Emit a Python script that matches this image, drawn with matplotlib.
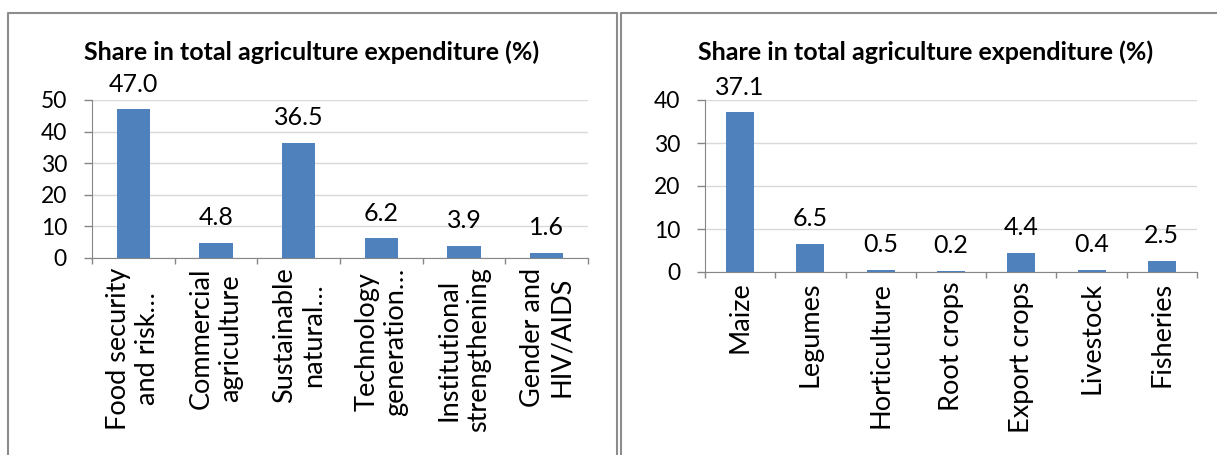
import matplotlib.pyplot as plt
from matplotlib.lines import Line2D

# left panel: agriculture programme areas
prog_labels = ["Food security\nand risk…", "Commercial\nagriculture", "Sustainable\nnatural…",
               "Technology\ngeneration…", "Institutional\nstrengthening", "Gender and\nHIV/AIDS"]
prog_share = [47.0, 4.8, 36.5, 6.2, 3.9, 1.6]

# right panel: commodities
crop_labels = ["Maize", "Legumes", "Horticulture", "Root crops", "Export crops", "Livestock", "Fisheries"]
crop_share = [37.1, 6.5, 0.5, 0.2, 4.4, 0.4, 2.5]

title = "Share in total agriculture expenditure (%)"
bar_color = "#4f81bd"

plt.rcParams['font.family'] = ['Lato', 'DejaVu Sans']

W, H = 1217, 455
fig = plt.figure(figsize=(W / 100, H / 100), dpi=100)


def px_axes(x0, x1, ytop, ybot):
    return fig.add_axes([x0 / W, (H - ybot) / H, (x1 - x0) / W, (ybot - ytop) / H])


def draw(ax, labels, vals, ymax, step):
    n = len(vals)
    xs = range(n)
    ax.bar(xs, vals, width=0.4, color=bar_color, zorder=3)
    for x, v in zip(xs, vals):
        ax.annotate(f"{v:.1f}", (x, v), xytext=(0, 10), textcoords="offset points",
                    ha="center", va="bottom", fontsize=18)
    ax.set_xlim(-0.5, n - 0.5)
    ax.set_ylim(0, ymax)
    ax.set_yticks(range(0, ymax + 1, step))
    ax.set_xticks(list(xs))
    ax.set_xticklabels(labels, rotation=90, fontsize=19.5, multialignment="center",
                       linespacing=1.2)
    ax.set_xticks([i - 0.5 for i in range(n + 1)], minor=True)
    ax.tick_params(axis="x", which="major", length=0, pad=7)
    ax.tick_params(axis="x", which="minor", length=4, color="#868686", width=1)
    ax.tick_params(axis="y", length=6, color="#868686", width=1, labelsize=16.5, pad=12)
    ax.grid(axis="y", color="#d9d9d9", linewidth=1, zorder=0)
    for s in ["top", "right"]:
        ax.spines[s].set_visible(False)
    for s in ["left", "bottom"]:
        ax.spines[s].set_color("#868686")
    ax.set_facecolor("none")


ax1 = px_axes(92, 588, 100, 258)
draw(ax1, prog_labels, prog_share, 50, 10)
ax2 = px_axes(705, 1197, 100, 272)
draw(ax2, crop_labels, crop_share, 40, 10)

fig.text(312 / W, 1 - 52 / H, title, ha="center", va="center", fontsize=18, fontweight="bold")
fig.text(926 / W, 1 - 52 / H, title, ha="center", va="center", fontsize=18, fontweight="bold")

# panel frames
gray = "#8c8c8c"
fx = lambda x: x / W
fy = lambda y: 1 - y / H
fig.add_artist(Line2D([fx(8), fx(8), fx(617), fx(617)], [fy(460), fy(13), fy(13), fy(460)],
                      color=gray, lw=1.5))
fig.add_artist(Line2D([fx(621), fx(621), fx(1220)], [fy(460), fy(13), fy(13)],
                      color=gray, lw=1.5))

fig.savefig("out.png", dpi=100)
